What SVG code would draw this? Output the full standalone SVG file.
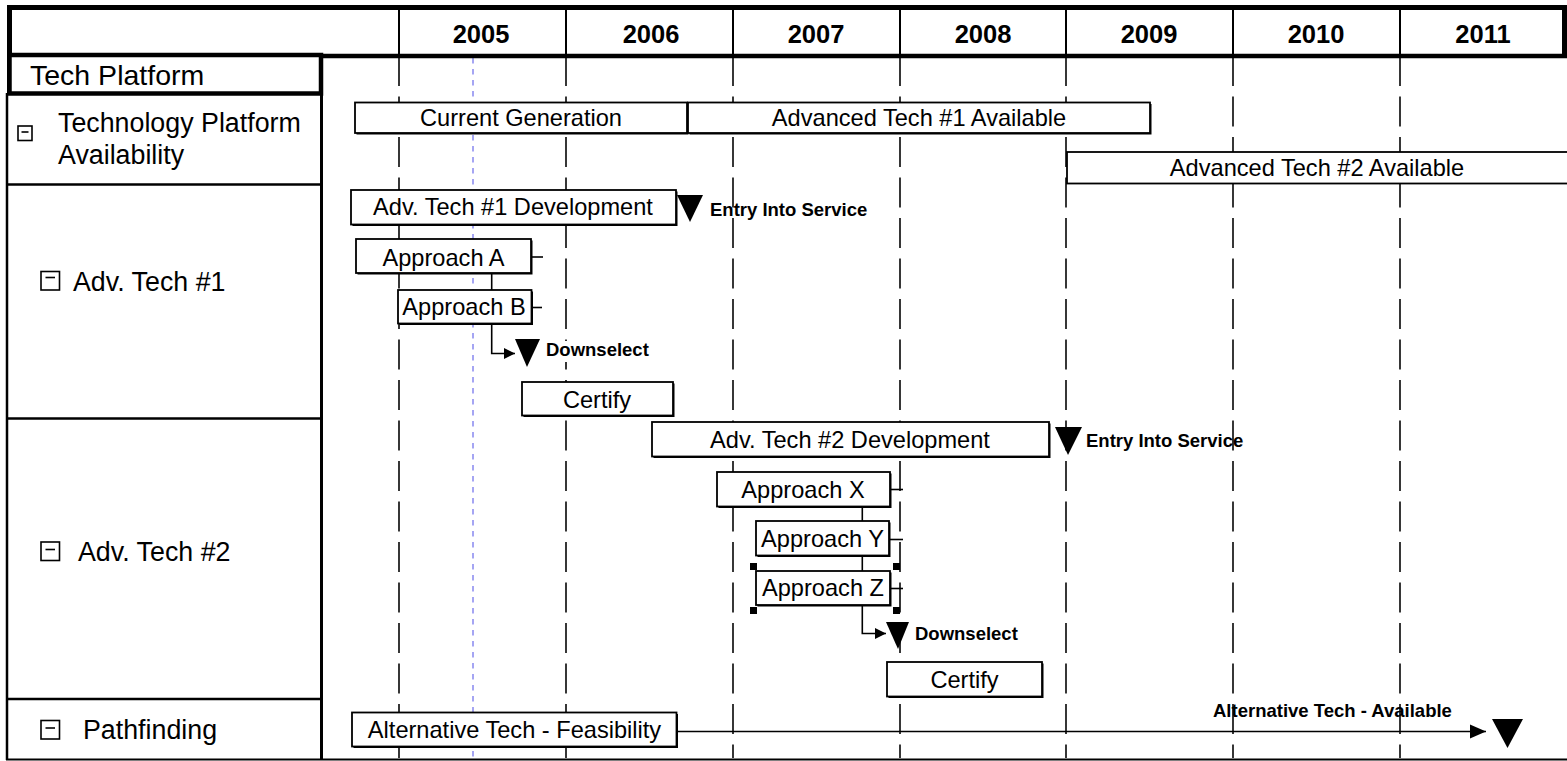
<svg xmlns="http://www.w3.org/2000/svg" width="1567" height="761" viewBox="0 0 1567 761">
  <style>
    .frame { stroke: #000; fill: none; }
    .grid { stroke: #222; stroke-width: 1.8; stroke-dasharray: 30 10.5; fill: none; }
    .today { stroke: #8f8ff0; stroke-width: 1.6; stroke-dasharray: 5.5 5.5; fill: none; }
    .year { font-family: "Liberation Sans", Arial, sans-serif; font-weight: bold; font-size: 25.5px; text-anchor: middle; fill: #000; }
    .row { font-family: "Liberation Sans", Arial, sans-serif; font-size: 26.8px; fill: #000; }
    .bar rect.shadow { fill: #000; stroke: none; }
    .bar rect.face { fill: #fff; stroke: #000; stroke-width: 1.8; }
    .bar text { font-family: "Liberation Sans", Arial, sans-serif; font-size: 23.6px; text-anchor: middle; fill: #000; }
    .ms polygon { fill: #000; stroke: none; }
    .ms text { font-family: "Liberation Sans", Arial, sans-serif; font-weight: bold; font-size: 18.5px; fill: #000; }
    .icon rect { fill: #fff; stroke: #000; stroke-width: 1.6; }
    .icon line { stroke: #000; stroke-width: 1.6; }
    .conn { stroke: #000; stroke-width: 1.6; fill: none; }
    .handle { fill: #000; }
  </style>
  <defs>
    <marker id="arrowSmall" markerUnits="userSpaceOnUse" markerWidth="12" markerHeight="12" refX="11" refY="6" orient="auto">
      <path d="M0,0.5 L11,6 L0,11.5 Z" fill="#000"/>
    </marker>
    <marker id="arrowLarge" markerUnits="userSpaceOnUse" markerWidth="17" markerHeight="16" refX="16" refY="8" orient="auto">
      <path d="M0,1 L16,8 L0,15 Z" fill="#000"/>
    </marker>
  </defs>

  <rect x="0" y="0" width="1567" height="761" fill="#fff"/>

  <!-- year grid lines -->
  <g id="grid">
    <line class="grid" x1="399" y1="56" x2="399" y2="758"/>
    <line class="grid" x1="566" y1="56" x2="566" y2="758"/>
    <line class="grid" x1="733" y1="56" x2="733" y2="758"/>
    <line class="grid" x1="900" y1="56" x2="900" y2="758"/>
    <line class="grid" x1="1066" y1="56" x2="1066" y2="758"/>
    <line class="grid" x1="1233" y1="56" x2="1233" y2="758"/>
    <line class="grid" x1="1400" y1="56" x2="1400" y2="758"/>
    <line class="today" x1="473" y1="58" x2="473" y2="758"/>
  </g>

  <!-- timescale header -->
  <g id="header">
    <line class="frame" x1="7" y1="7.5" x2="1567" y2="7.5" stroke-width="5"/>
    <line class="frame" x1="9.5" y1="5" x2="9.5" y2="95" stroke-width="5"/>
    <line class="frame" x1="1564.5" y1="5" x2="1564.5" y2="58" stroke-width="5"/>
    <line class="frame" x1="7" y1="56" x2="1567" y2="56" stroke-width="4.5"/>
    <g stroke="#000" stroke-width="2">
      <line x1="399" y1="10" x2="399" y2="54"/>
      <line x1="566" y1="10" x2="566" y2="54"/>
      <line x1="733" y1="10" x2="733" y2="54"/>
      <line x1="900" y1="10" x2="900" y2="54"/>
      <line x1="1066" y1="10" x2="1066" y2="54"/>
      <line x1="1233" y1="10" x2="1233" y2="54"/>
      <line x1="1400" y1="10" x2="1400" y2="54"/>
    </g>
    <text class="year" x="481" y="43">2005</text>
    <text class="year" x="651" y="43">2006</text>
    <text class="year" x="816" y="43">2007</text>
    <text class="year" x="983" y="43">2008</text>
    <text class="year" x="1149" y="43">2009</text>
    <text class="year" x="1316" y="43">2010</text>
    <text class="year" x="1483" y="43">2011</text>
  </g>

  <!-- row labels -->
  <g id="rows">
    <line class="frame" x1="7" y1="93" x2="7" y2="760" stroke-width="2.5"/>
    <line class="frame" x1="321.5" y1="93" x2="321.5" y2="760" stroke-width="3"/>
    <line class="frame" x1="7" y1="184.5" x2="321" y2="184.5" stroke-width="2.5"/>
    <line class="frame" x1="7" y1="418.5" x2="321" y2="418.5" stroke-width="2.5"/>
    <line class="frame" x1="7" y1="699" x2="321" y2="699" stroke-width="2.5"/>
    <line class="frame" x1="6" y1="759.5" x2="1567" y2="759.5" stroke-width="2"/>
  </g>

  <g id="row-tech-platform">
    <rect x="9.5" y="55" width="311.5" height="38.5" fill="#fff" stroke="#000" stroke-width="4.5"/>
    <text class="row" x="30" y="85" style="font-size:28.5px">Tech Platform</text>
  </g>

  <g id="row-availability">
    <g class="icon"><rect x="18" y="126" width="14" height="14.5"/><line x1="21.5" y1="132" x2="28.5" y2="132"/></g>
    <text class="row" x="58" y="131.5">Technology Platform</text>
    <text class="row" x="58" y="163.5">Availability</text>
  </g>

  <g id="row-adv-tech-1">
    <g class="icon"><rect x="41" y="271.5" width="18.5" height="18.5"/><line x1="45.5" y1="277.5" x2="55" y2="277.5"/></g>
    <text class="row" x="73" y="290.5">Adv. Tech #1</text>
  </g>

  <g id="row-adv-tech-2">
    <g class="icon"><rect x="41" y="542" width="18.5" height="18.5"/><line x1="45.5" y1="549.5" x2="55" y2="549.5"/></g>
    <text class="row" x="78" y="560.5">Adv. Tech #2</text>
  </g>

  <g id="row-pathfinding">
    <g class="icon"><rect x="41" y="720.5" width="18.5" height="18.5"/><line x1="45.5" y1="728" x2="55" y2="728"/></g>
    <text class="row" x="83" y="739">Pathfinding</text>
  </g>

  <!-- task bars -->
  <g id="bar-current-generation" class="bar">
    <rect class="shadow" x="356.5" y="104" width="332" height="30.5"/>
    <rect class="face" x="355" y="102.5" width="332" height="30.5"/>
    <text x="521" y="126">Current Generation</text>
  </g>
  <g id="bar-adv-tech-1-available" class="bar">
    <rect class="shadow" x="689.5" y="104" width="462" height="30.5"/>
    <rect class="face" x="688" y="102.5" width="462" height="30.5"/>
    <text x="919" y="126">Advanced Tech #1 Available</text>
  </g>
  <g id="bar-adv-tech-2-available" class="bar">
    <rect class="face" x="1067" y="152" width="502" height="31.5"/>
    <text x="1317" y="175.5">Advanced Tech #2 Available</text>
  </g>
  <g id="bar-adv-tech-1-development" class="bar">
    <rect class="shadow" x="352.5" y="191.5" width="325" height="34.5"/>
    <rect class="face" x="351" y="190" width="325" height="34.5"/>
    <text x="513" y="215">Adv. Tech #1 Development</text>
  </g>
  <g id="bar-approach-a" class="bar">
    <rect class="shadow" x="357.5" y="240.5" width="175" height="34"/>
    <rect class="face" x="356" y="239" width="175" height="34"/>
    <text x="443.5" y="265.5">Approach A</text>
  </g>
  <g id="bar-approach-b" class="bar">
    <rect class="shadow" x="399.5" y="291.5" width="133.5" height="33.5"/>
    <rect class="face" x="398" y="290" width="133.5" height="33.5"/>
    <text x="464" y="315">Approach B</text>
  </g>
  <g id="bar-certify-1" class="bar">
    <rect class="shadow" x="523.5" y="383.5" width="151" height="33.5"/>
    <rect class="face" x="522" y="382" width="151" height="33.5"/>
    <text x="597" y="408">Certify</text>
  </g>
  <g id="bar-adv-tech-2-development" class="bar">
    <rect class="shadow" x="653.5" y="423.5" width="397" height="34.5"/>
    <rect class="face" x="652" y="422" width="397" height="34.5"/>
    <text x="850" y="448">Adv. Tech #2 Development</text>
  </g>
  <g id="bar-approach-x" class="bar">
    <rect class="shadow" x="718.5" y="473.5" width="173" height="34.5"/>
    <rect class="face" x="717" y="472" width="173" height="34.5"/>
    <text x="803" y="497.5">Approach X</text>
  </g>
  <g id="bar-approach-y" class="bar">
    <rect class="shadow" x="757.5" y="522.5" width="133" height="34.5"/>
    <rect class="face" x="756" y="521" width="133" height="34.5"/>
    <text x="822.5" y="546.5">Approach Y</text>
  </g>
  <g id="bar-approach-z" class="bar">
    <rect class="shadow" x="757.5" y="572.5" width="134" height="34"/>
    <rect class="face" x="756" y="571" width="134" height="34"/>
    <text x="823" y="596">Approach Z</text>
  </g>
  <g id="bar-certify-2" class="bar">
    <rect class="shadow" x="888.5" y="663.5" width="155" height="34.5"/>
    <rect class="face" x="887" y="662" width="155" height="34.5"/>
    <text x="964.5" y="688">Certify</text>
  </g>
  <g id="bar-alt-tech-feasibility" class="bar">
    <rect class="shadow" x="353.5" y="714" width="324.5" height="34"/>
    <rect class="face" x="352" y="712.5" width="324.5" height="34"/>
    <text x="514.5" y="738">Alternative Tech - Feasibility</text>
  </g>

  <!-- links between tasks and milestones -->
  <g id="connectors">
    <line class="conn" x1="491.7" y1="274" x2="491.7" y2="290"/>
    <path class="conn" d="M491.7,324 V353.5 H515" marker-end="url(#arrowSmall)"/>
    <line class="conn" x1="862.3" y1="507" x2="862.3" y2="521"/>
    <line class="conn" x1="862.3" y1="556" x2="862.3" y2="571"/>
    <path class="conn" d="M862.3,605 V633.5 H886" marker-end="url(#arrowSmall)"/>
    <path class="conn" d="M677,731.5 H1486" stroke-width="2" marker-end="url(#arrowLarge)"/>
    <line class="conn" x1="531" y1="257" x2="543" y2="257"/>
    <line class="conn" x1="532" y1="307.5" x2="542" y2="307.5"/>
    <line class="conn" x1="890" y1="489.5" x2="903" y2="489.5"/>
    <line class="conn" x1="889" y1="539.5" x2="903" y2="539.5"/>
    <line class="conn" x1="890" y1="588.5" x2="903" y2="588.5"/>
  </g>

  <!-- milestones -->
  <g id="ms-entry-1" class="ms">
    <polygon points="677,195 703,195 690,222"/>
    <text x="710" y="216">Entry Into Service</text>
  </g>
  <g id="ms-downselect-1" class="ms">
    <polygon points="515,339 540,339 527,367"/>
    <rect x="544" y="341" width="108" height="21" fill="#fff"/>
    <text x="546" y="356">Downselect</text>
  </g>
  <g id="ms-entry-2" class="ms">
    <polygon points="1055,427 1082,427 1068,455"/>
    <text x="1086" y="447">Entry Into Service</text>
  </g>
  <g id="ms-downselect-2" class="ms">
    <polygon points="886,622 909,622 898,649"/>
    <rect x="913" y="625" width="108" height="21" fill="#fff"/>
    <text x="915" y="640">Downselect</text>
  </g>
  <g id="ms-alt-available" class="ms">
    <polygon points="1492,719 1523,719 1507.5,748"/>
    <text x="1213" y="717">Alternative Tech - Available</text>
  </g>

  <!-- selection handles on Approach Z -->
  <g id="handles">
    <rect class="handle" x="750" y="563" width="7" height="7"/>
    <rect class="handle" x="893" y="563" width="7" height="7"/>
    <rect class="handle" x="750" y="607" width="7" height="7"/>
    <rect class="handle" x="893" y="607" width="7" height="7"/>
  </g>
</svg>
